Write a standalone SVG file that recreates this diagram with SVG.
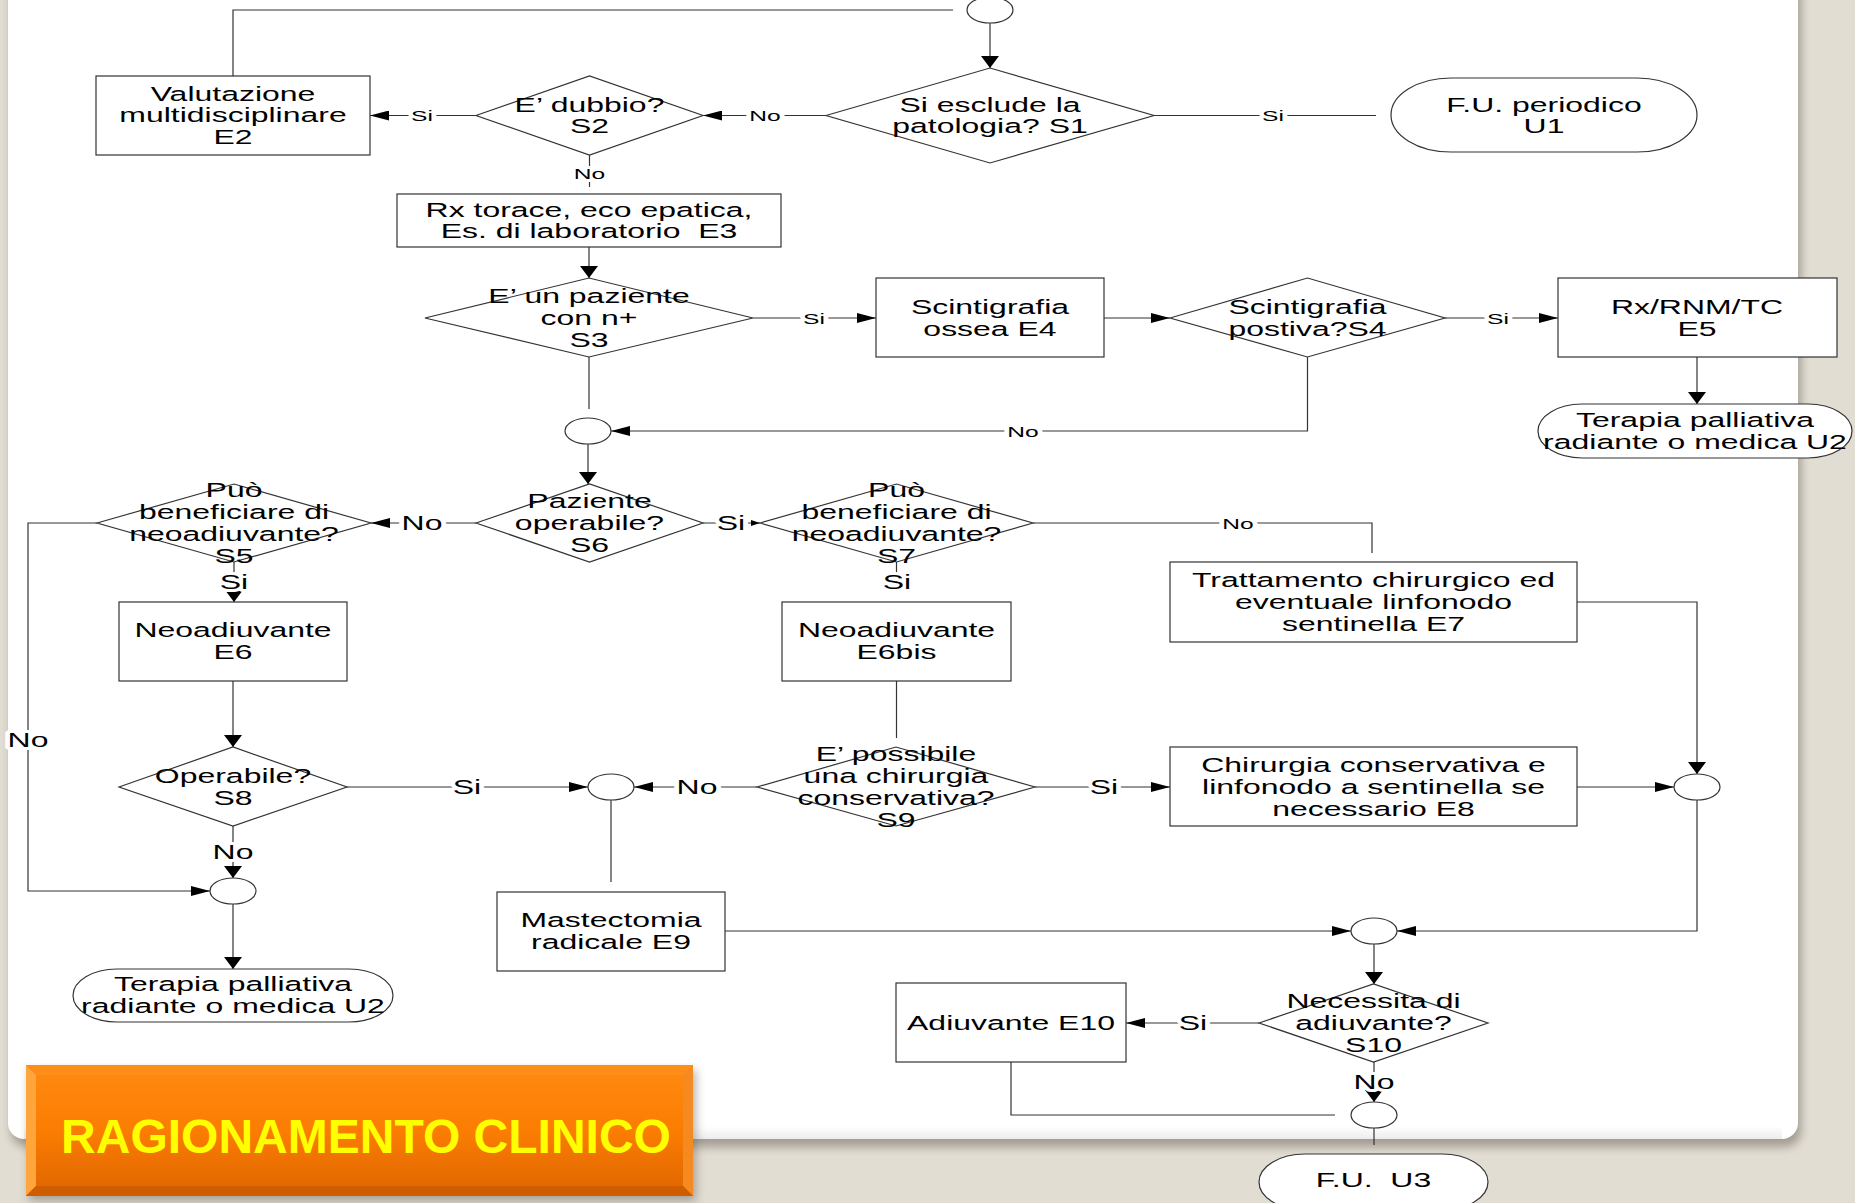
<svg xmlns="http://www.w3.org/2000/svg" width="1855" height="1203" viewBox="0 0 1855 1203">
<defs>
<style>
.ln{fill:none;stroke:#333;stroke-width:1.2}
.nd{fill:#fff;stroke:#333;stroke-width:1.2}
.t{font-family:"Liberation Sans",Arial,sans-serif;font-size:19.5px;text-anchor:middle;fill:#000;white-space:pre}
.lb{font-family:"Liberation Sans",Arial,sans-serif;font-size:19.5px;text-anchor:middle;fill:#000;paint-order:stroke;stroke:#fff;stroke-width:6px;stroke-linejoin:round}
.ls{font-family:"Liberation Sans",Arial,sans-serif;font-size:15px;text-anchor:middle;fill:#000;paint-order:stroke;stroke:#fff;stroke-width:6px;stroke-linejoin:round}
</style>
<marker id="aH" markerUnits="userSpaceOnUse" markerWidth="19" markerHeight="10" refX="19" refY="5" orient="auto"><path d="M0,0 L19,5 L0,10 Z" fill="#000"/></marker>
<marker id="aV" markerUnits="userSpaceOnUse" markerWidth="12" markerHeight="18" refX="12" refY="9" orient="auto"><path d="M0,0 L12,9 L0,18 Z" fill="#000"/></marker>
<marker id="aS" markerUnits="userSpaceOnUse" markerWidth="9" markerHeight="6" refX="9" refY="3" orient="auto"><path d="M0,0 L9,3 L0,6 Z" fill="#000"/></marker>
<filter id="sh" x="-5%" y="-5%" width="110%" height="115%"><feGaussianBlur stdDeviation="5"/></filter>
<linearGradient id="og" x1="0" y1="0" x2="0" y2="1">
<stop offset="0" stop-color="#ff8a12"/><stop offset="0.5" stop-color="#fb7d02"/><stop offset="1" stop-color="#df6500"/>
</linearGradient>
<linearGradient id="pb" x1="0" y1="0" x2="0" y2="1">
<stop offset="0" stop-color="#ffffff"/><stop offset="1" stop-color="#ececec"/>
</linearGradient>
</defs>
<rect x="0" y="0" width="1855" height="1203" fill="#e2ddd3"/>
<g id="panel">
<rect x="11" y="-30" width="1790" height="1177" rx="16" fill="#6f685d" opacity="0.55" filter="url(#sh)"/>
<rect x="8" y="-30" width="1790" height="1169" rx="16" fill="#fff"/>
<rect x="24" y="1126" width="1758" height="13" fill="url(#pb)"/>
</g>

<g id="connectors">
<polyline class="ln" points="233,76 233,10 953,10"/>
<line class="ln" x1="990" y1="23" x2="990" y2="68" marker-end="url(#aV)"/>
<line class="ln" x1="826" y1="115.5" x2="703" y2="115.5" marker-end="url(#aH)"/>
<line class="ln" x1="476" y1="115.5" x2="370" y2="115.5" marker-end="url(#aH)"/>
<line class="ln" x1="1154" y1="115.5" x2="1376" y2="115.5"/>
<line class="ln" x1="589.5" y1="155" x2="589.5" y2="187"/>
<line class="ln" x1="589" y1="247" x2="589" y2="278" marker-end="url(#aV)"/>
<line class="ln" x1="753" y1="318" x2="876" y2="318" marker-end="url(#aH)"/>
<line class="ln" x1="1104" y1="318" x2="1170" y2="318" marker-end="url(#aH)"/>
<line class="ln" x1="1445" y1="318" x2="1558" y2="318" marker-end="url(#aH)"/>
<line class="ln" x1="1697" y1="357" x2="1697" y2="404" marker-end="url(#aV)"/>
<polyline class="ln" points="1307.5,357 1307.5,431 611,431" marker-end="url(#aH)"/>
<line class="ln" x1="589" y1="357" x2="589" y2="409"/>
<line class="ln" x1="588" y1="444" x2="588" y2="484" marker-end="url(#aV)"/>
<line class="ln" x1="476" y1="523" x2="371" y2="523" marker-end="url(#aH)"/>
<line class="ln" x1="703" y1="523" x2="760" y2="523" marker-end="url(#aS)"/>
<line class="ln" x1="234" y1="562" x2="234" y2="602" marker-end="url(#aV)"/>
<line class="ln" x1="896.5" y1="562" x2="896.5" y2="590"/>
<polyline class="ln" points="1033,523 1372,523 1372,553"/>
<polyline class="ln" points="97,523 28,523 28,891 210,891" marker-end="url(#aH)"/>
<line class="ln" x1="233" y1="681" x2="233" y2="747" marker-end="url(#aV)"/>
<line class="ln" x1="347" y1="787" x2="588" y2="787" marker-end="url(#aH)"/>
<line class="ln" x1="757" y1="787" x2="634" y2="787" marker-end="url(#aH)"/>
<line class="ln" x1="896.5" y1="681" x2="896.5" y2="738"/>
<line class="ln" x1="1035" y1="787" x2="1170" y2="787" marker-end="url(#aH)"/>
<polyline class="ln" points="1577,602 1697,602 1697,774" marker-end="url(#aV)"/>
<line class="ln" x1="1577" y1="787" x2="1674" y2="787" marker-end="url(#aH)"/>
<polyline class="ln" points="1697,800 1697,931 1397,931" marker-end="url(#aH)"/>
<line class="ln" x1="611" y1="800" x2="611" y2="882"/>
<line class="ln" x1="725" y1="931" x2="1351" y2="931" marker-end="url(#aH)"/>
<line class="ln" x1="233" y1="826" x2="233" y2="878" marker-end="url(#aV)"/>
<line class="ln" x1="233" y1="904" x2="233" y2="969" marker-end="url(#aV)"/>
<line class="ln" x1="1374" y1="944" x2="1374" y2="984" marker-end="url(#aV)"/>
<line class="ln" x1="1259" y1="1023" x2="1126" y2="1023" marker-end="url(#aH)"/>
<line class="ln" x1="1374" y1="1062" x2="1374" y2="1102" marker-end="url(#aV)"/>
<polyline class="ln" points="1011,1062 1011,1115 1335,1115"/>
<line class="ln" x1="1374" y1="1128" x2="1374" y2="1145"/>
<g id="labels">
<text class="ls" transform="translate(765,121) scale(1.64,1)">No</text>
<text class="ls" transform="translate(422,121) scale(1.64,1)">Si</text>
<text class="ls" transform="translate(1273,121) scale(1.64,1)">Si</text>
<text class="ls" transform="translate(589.5,178.5) scale(1.64,1)">No</text>
<text class="ls" transform="translate(814,323.5) scale(1.64,1)">Si</text>
<text class="ls" transform="translate(1498,323.5) scale(1.64,1)">Si</text>
<text class="ls" transform="translate(1023,436.5) scale(1.64,1)">No</text>
<text class="lb" transform="translate(422,530) scale(1.64,1)">No</text>
<text class="lb" transform="translate(731,530) scale(1.64,1)">Si</text>
<text class="ls" transform="translate(1238,528.5) scale(1.64,1)">No</text>
<text class="lb" transform="translate(234,589) scale(1.64,1)">Si</text>
<text class="lb" transform="translate(897,589) scale(1.64,1)">Si</text>
<text class="lb" transform="translate(28,747) scale(1.64,1)">No</text>
<text class="lb" transform="translate(467,794) scale(1.64,1)">Si</text>
<text class="lb" transform="translate(697,794) scale(1.64,1)">No</text>
<text class="lb" transform="translate(1104,794) scale(1.64,1)">Si</text>
<text class="lb" transform="translate(233,859) scale(1.64,1)">No</text>
<text class="lb" transform="translate(1193,1030) scale(1.64,1)">Si</text>
<text class="lb" transform="translate(1374,1089) scale(1.64,1)">No</text>
</g>
</g>

<g id="C0"><ellipse class="nd" cx="990" cy="10" rx="23" ry="13"/></g>
<g id="C2"><ellipse class="nd" cx="588" cy="431" rx="23" ry="13"/></g>
<g id="C3"><ellipse class="nd" cx="611" cy="787" rx="23" ry="13"/></g>
<g id="C4"><ellipse class="nd" cx="1697" cy="787" rx="23" ry="13"/></g>
<g id="C5"><ellipse class="nd" cx="1374" cy="931" rx="23" ry="13"/></g>
<g id="C6"><ellipse class="nd" cx="233" cy="891" rx="23" ry="13"/></g>
<g id="C7"><ellipse class="nd" cx="1374" cy="1115" rx="23" ry="13"/></g>

<g id="E2"><rect class="nd" x="96" y="76" width="274" height="79"/>
<text class="t" transform="translate(233,100.5) scale(1.64,1)"><tspan x="0">Valutazione</tspan><tspan x="0" dy="22">multidisciplinare</tspan><tspan x="0" dy="22">E2</tspan></text></g>
<g id="S2"><polygon class="nd" points="476,115.5 589.5,76 703,115.5 589.5,155"/>
<text class="t" transform="translate(589.5,111.5) scale(1.64,1)"><tspan x="0">E’ dubbio?</tspan><tspan x="0" dy="22">S2</tspan></text></g>
<g id="S1"><polygon class="nd" points="826,115.5 990,68 1154,115.5 990,163"/>
<text class="t" transform="translate(990,111.5) scale(1.64,1)"><tspan x="0">Si esclude la</tspan><tspan x="0" dy="22">patologia? S1</tspan></text></g>
<g id="U1"><rect class="nd" x="1391" y="78" width="306" height="74" rx="60" ry="37"/>
<text class="t" transform="translate(1544,111.5) scale(1.64,1)"><tspan x="0">F.U. periodico</tspan><tspan x="0" dy="22">U1</tspan></text></g>
<g id="E3"><rect class="nd" x="397" y="194" width="384" height="53"/>
<text class="t" transform="translate(589,216.5) scale(1.64,1)"><tspan x="0">Rx torace, eco epatica,</tspan><tspan x="0" dy="22">Es. di laboratorio  E3</tspan></text></g>
<g id="S3"><polygon class="nd" points="425,318 589,278 753,318 589,357"/>
<text class="t" transform="translate(589,303) scale(1.64,1)"><tspan x="0">E’ un paziente</tspan><tspan x="0" dy="22">con n+</tspan><tspan x="0" dy="22">S3</tspan></text></g>
<g id="E4"><rect class="nd" x="876" y="278" width="228" height="79"/>
<text class="t" transform="translate(990,314) scale(1.64,1)"><tspan x="0">Scintigrafia</tspan><tspan x="0" dy="22">ossea E4</tspan></text></g>
<g id="S4"><polygon class="nd" points="1170,318 1307.5,278 1445,318 1307.5,357"/>
<text class="t" transform="translate(1307.5,314) scale(1.64,1)"><tspan x="0">Scintigrafia</tspan><tspan x="0" dy="22">postiva?S4</tspan></text></g>
<g id="E5"><rect class="nd" x="1558" y="278" width="279" height="79"/>
<text class="t" transform="translate(1697,314) scale(1.64,1)"><tspan x="0">Rx/RNM/TC</tspan><tspan x="0" dy="22">E5</tspan></text></g>
<g id="U2a"><rect class="nd" x="1538" y="404" width="314" height="54" rx="44" ry="27"/>
<text class="t" transform="translate(1695,427) scale(1.64,1)"><tspan x="0">Terapia palliativa</tspan><tspan x="0" dy="22">radiante o medica U2</tspan></text></g>
<g id="S5"><polygon class="nd" points="97,523 234,484 371,523 234,562"/>
<text class="t" transform="translate(234,497) scale(1.64,1)"><tspan x="0">Può</tspan><tspan x="0" dy="22">beneficiare di</tspan><tspan x="0" dy="22">neoadiuvante?</tspan><tspan x="0" dy="22">S5</tspan></text></g>
<g id="S6"><polygon class="nd" points="476,523 589.5,484 703,523 589.5,562"/>
<text class="t" transform="translate(589.5,508) scale(1.64,1)"><tspan x="0">Paziente</tspan><tspan x="0" dy="22">operabile?</tspan><tspan x="0" dy="22">S6</tspan></text></g>
<g id="S7"><polygon class="nd" points="760,523 896.5,484 1033,523 896.5,562"/>
<text class="t" transform="translate(896.5,497) scale(1.64,1)"><tspan x="0">Può</tspan><tspan x="0" dy="22">beneficiare di</tspan><tspan x="0" dy="22">neoadiuvante?</tspan><tspan x="0" dy="22">S7</tspan></text></g>
<g id="E6"><rect class="nd" x="119" y="602" width="228" height="79"/>
<text class="t" transform="translate(233,637) scale(1.64,1)"><tspan x="0">Neoadiuvante</tspan><tspan x="0" dy="22">E6</tspan></text></g>
<g id="E6bis"><rect class="nd" x="782" y="602" width="229" height="79"/>
<text class="t" transform="translate(896.5,637) scale(1.64,1)"><tspan x="0">Neoadiuvante</tspan><tspan x="0" dy="22">E6bis</tspan></text></g>
<g id="E7"><rect class="nd" x="1170" y="562" width="407" height="80"/>
<text class="t" transform="translate(1373.5,587) scale(1.64,1)"><tspan x="0">Trattamento chirurgico ed</tspan><tspan x="0" dy="22">eventuale linfonodo</tspan><tspan x="0" dy="22">sentinella E7</tspan></text></g>
<g id="S8"><polygon class="nd" points="119,787 233,747 347,787 233,826"/>
<text class="t" transform="translate(233,783) scale(1.64,1)"><tspan x="0">Operabile?</tspan><tspan x="0" dy="22">S8</tspan></text></g>
<g id="S9"><polygon class="nd" points="757,787 896,747 1035,787 896,826"/>
<text class="t" transform="translate(896,761) scale(1.64,1)"><tspan x="0">E’ possibile</tspan><tspan x="0" dy="22">una chirurgia</tspan><tspan x="0" dy="22">conservativa?</tspan><tspan x="0" dy="22">S9</tspan></text></g>
<g id="E8"><rect class="nd" x="1170" y="747" width="407" height="79"/>
<text class="t" transform="translate(1373.5,772) scale(1.64,1)"><tspan x="0">Chirurgia conservativa e</tspan><tspan x="0" dy="22">linfonodo a sentinella se</tspan><tspan x="0" dy="22">necessario E8</tspan></text></g>
<g id="E9"><rect class="nd" x="497" y="892" width="228" height="79"/>
<text class="t" transform="translate(611,927) scale(1.64,1)"><tspan x="0">Mastectomia</tspan><tspan x="0" dy="22">radicale E9</tspan></text></g>
<g id="U2b"><rect class="nd" x="73" y="969" width="320" height="53" rx="44" ry="26.5"/>
<text class="t" transform="translate(233,991) scale(1.64,1)"><tspan x="0">Terapia palliativa</tspan><tspan x="0" dy="22">radiante o medica U2</tspan></text></g>
<g id="S10"><polygon class="nd" points="1259,1023 1373.5,984 1488,1023 1373.5,1062"/>
<text class="t" transform="translate(1373.5,1008) scale(1.64,1)"><tspan x="0">Necessita di</tspan><tspan x="0" dy="22">adiuvante?</tspan><tspan x="0" dy="22">S10</tspan></text></g>
<g id="E10"><rect class="nd" x="896" y="983" width="230" height="79"/>
<text class="t" transform="translate(1011,1030) scale(1.64,1)">Adiuvante E10</text></g>
<g id="U3"><rect class="nd" x="1259" y="1154" width="229" height="56" rx="46" ry="28"/>
<text class="t" transform="translate(1373.5,1187) scale(1.64,1)">F.U.  U3</text></g>

<g id="banner">
<rect x="29" y="1070" width="667" height="131" fill="#5e574d" opacity="0.45" filter="url(#sh)"/>
<rect x="26" y="1065" width="667" height="131" fill="url(#og)"/>
<polygon points="26,1065 36,1075 36,1186 26,1196" fill="#ffa53c"/>
<polygon points="693,1065 683,1075 683,1186 693,1196" fill="#f48a20"/>
<polygon points="26,1196 36,1186 683,1186 693,1196" fill="#d05c00"/>
<polygon points="26,1065 36,1075 683,1075 693,1065" fill="#ff8e18"/>
<text x="366" y="1153" font-family="'Liberation Sans',Arial,sans-serif" font-size="48" font-weight="bold" fill="#ffff00" text-anchor="middle">RAGIONAMENTO CLINICO</text>
</g>
</svg>
